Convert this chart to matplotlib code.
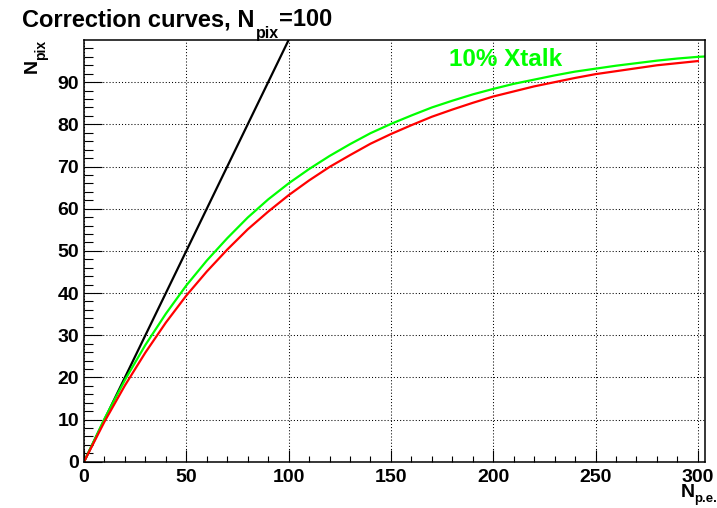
import matplotlib
matplotlib.use("Agg")
import matplotlib.pyplot as plt
from matplotlib.ticker import MultipleLocator, FixedLocator

plt.rcParams['font.family'] = ['Liberation Sans', 'DejaVu Sans']
plt.rcParams['font.weight'] = 'bold'

# values
npe = [0, 10, 20, 30, 40, 50, 60, 70, 80, 90, 100, 110, 120, 130, 140, 150,
       160, 170, 180, 190, 200, 210, 220, 230, 240, 250, 260, 270, 280, 290, 300]
npix_red = [0, 9.5, 18.1, 25.9, 33.0, 39.4, 45.1, 50.3, 55.1, 59.3, 63.2,
            66.7, 69.9, 72.7, 75.4, 77.7, 79.8, 81.8, 83.5, 85.1, 86.6,
            87.8, 89.0, 90.0, 91.0, 91.9, 92.6, 93.3, 94.0, 94.5, 95.0]
npe_green = npe + [304]
npix_green = [0, 10.2, 19.4, 27.7, 35.1, 41.8, 47.7, 53.0, 57.9, 62.2, 66.0,
              69.4, 72.5, 75.3, 77.9, 80.1, 82.1, 84.0, 85.6, 87.1, 88.4,
              89.6, 90.6, 91.6, 92.5, 93.2, 93.9, 94.5, 95.1, 95.6, 96.0, 96.1]
ideal_x = [0, 100]
ideal_y = [0, 100]

fig = plt.figure(figsize=(7.17, 5.08), dpi=100)
ax = fig.add_axes([0.1172, 0.0911, 0.8661, 0.8302])

ax.plot(ideal_x, ideal_y, color='black', lw=1.6)
ax.plot(npe_green, npix_green, color='#00ff00', lw=1.6)
ax.plot(npe, npix_red, color='#ff0000', lw=1.6)

ax.set_xlim(0, 303.5)
ax.set_ylim(0, 100)
ax.xaxis.set_major_locator(MultipleLocator(50))
ax.xaxis.set_minor_locator(MultipleLocator(10))
ax.yaxis.set_major_locator(FixedLocator(range(0, 91, 10)))
ax.yaxis.set_minor_locator(FixedLocator(range(0, 100, 2)))

ax.grid(True, which='major', color='black', lw=0.75, linestyle=(0, (1, 2)))
for s in ax.spines.values():
  s.set_linewidth(1.1)

ax.tick_params(axis='both', which='both', direction='in', width=0.8,
               labelsize=14)
ax.tick_params(axis='x', which='major', length=8.6, pad=5)
ax.tick_params(axis='x', which='minor', length=4.3)
ax.tick_params(axis='y', which='major', length=13, pad=3.5)
ax.tick_params(axis='y', which='minor', length=6.5)
for lab in ax.get_xticklabels() + ax.get_yticklabels():
  lab.set_fontweight('bold')

ax.text(178.5, 93.8, '10% Xtalk', color='#00ff00', fontsize=17.5,
        fontweight='bold', va='baseline')

# title with ROOT-like subscript
t1 = fig.text(0.0303, 1-26/508, 'Correction curves, N', fontsize=17,
              fontweight='bold', va='baseline')
t2 = ax.annotate('pix', xy=(1, 0), xycoords=t1, xytext=(1, -5),
                 textcoords='offset points', fontsize=11.5,
                 fontweight='bold', va='baseline', ha='left')
ax.annotate('=100', xy=(1, 0), xycoords=(t2, t1), fontsize=17,
            fontweight='bold', va='bottom', ha='left')

# y title
fig.text(37/717, 1-73/508, 'N', fontsize=14, fontweight='bold', rotation=90,
         rotation_mode='anchor', ha='left', va='baseline')
fig.text(45.5/717, 1-60/508, 'pix', fontsize=10, fontweight='bold',
         rotation=90, rotation_mode='anchor', ha='left', va='baseline')

# x title
fig.text(681/717, 1-497/508, 'N', fontsize=14, fontweight='bold',
         ha='left', va='baseline')
fig.text(694/717, 1-502/508, 'p.e.', fontsize=9.5, fontweight='bold',
         ha='left', va='baseline')

fig.savefig('out.png', dpi=100)
